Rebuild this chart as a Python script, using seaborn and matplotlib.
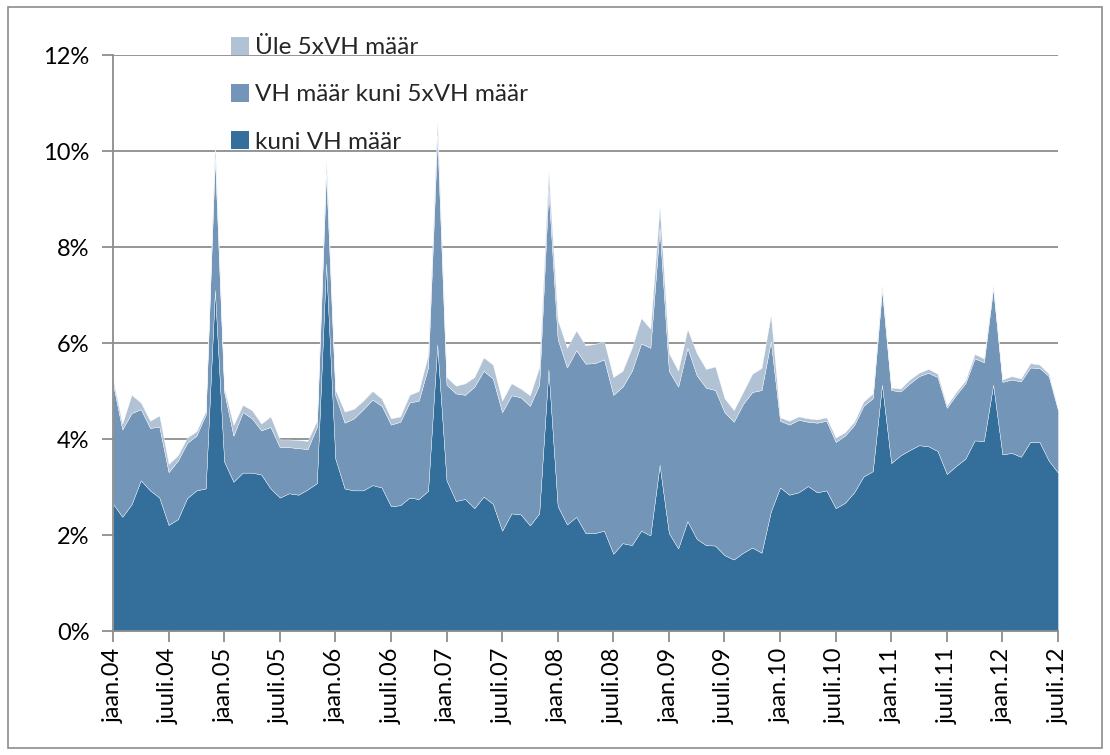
import matplotlib
matplotlib.use("Agg")
import matplotlib.pyplot as plt
import seaborn as sns
import numpy as np
from matplotlib.patches import Patch, Rectangle

# monthly shares (%), jaan.2004 .. juuli.2012
kuni_vh = [2.65, 2.38, 2.64, 3.14, 2.93, 2.78, 2.21, 2.33, 2.77, 2.93, 2.97, 7.10,
           3.53, 3.11, 3.30, 3.30, 3.26, 2.97, 2.78, 2.87, 2.84, 2.95, 3.08, 7.65,
           3.59, 2.97, 2.93, 2.93, 3.04, 2.99, 2.60, 2.62, 2.78, 2.75, 2.92, 5.97,
           3.14, 2.71, 2.75, 2.56, 2.80, 2.65, 2.09, 2.45, 2.43, 2.20, 2.45, 5.45,
           2.60, 2.22, 2.38, 2.04, 2.04, 2.09, 1.61, 1.83, 1.79, 2.09, 1.99, 3.46,
           2.04, 1.72, 2.29, 1.92, 1.79, 1.78, 1.58, 1.49, 1.63, 1.74, 1.63, 2.49,
           2.99, 2.84, 2.89, 3.02, 2.89, 2.93, 2.56, 2.67, 2.89, 3.22, 3.33, 5.13,
           3.50, 3.66, 3.77, 3.87, 3.85, 3.75, 3.27, 3.44, 3.59, 3.97, 3.96, 5.13,
           3.68, 3.71, 3.63, 3.94, 3.94, 3.55, 3.30]

vh_kuni_5xvh = [2.50, 1.82, 1.90, 1.48, 1.30, 1.48, 1.10, 1.22, 1.15, 1.14, 1.54, 2.77,
                1.45, 0.96, 1.26, 1.13, 0.92, 1.28, 1.05, 0.96, 0.97, 0.84, 1.17, 1.90,
                1.32, 1.37, 1.50, 1.69, 1.78, 1.70, 1.70, 1.74, 1.98, 2.05, 2.57, 4.36,
                1.99, 2.24, 2.17, 2.53, 2.62, 2.61, 2.47, 2.46, 2.44, 2.49, 2.68, 3.75,
                3.48, 3.27, 3.47, 3.53, 3.54, 3.57, 3.31, 3.26, 3.63, 3.90, 3.91, 4.94,
                3.38, 3.37, 3.61, 3.41, 3.28, 3.24, 2.98, 2.87, 3.10, 3.24, 3.39, 3.55,
                1.39, 1.46, 1.51, 1.34, 1.45, 1.45, 1.38, 1.40, 1.40, 1.47, 1.52, 1.98,
                1.52, 1.33, 1.39, 1.44, 1.53, 1.54, 1.38, 1.48, 1.57, 1.71, 1.64, 2.01,
                1.51, 1.53, 1.57, 1.55, 1.54, 1.76, 1.30]

ule_5xvh = [0.09, 0.12, 0.38, 0.14, 0.15, 0.23, 0.17, 0.11, 0.11, 0.09, 0.07, 0.30,
            0.07, 0.22, 0.15, 0.17, 0.14, 0.22, 0.16, 0.16, 0.17, 0.17, 0.13, 0.27,
            0.11, 0.23, 0.20, 0.18, 0.18, 0.15, 0.13, 0.11, 0.16, 0.20, 0.26, 0.31,
            0.16, 0.16, 0.24, 0.20, 0.28, 0.29, 0.24, 0.25, 0.18, 0.22, 0.36, 0.36,
            0.40, 0.41, 0.41, 0.38, 0.40, 0.38, 0.37, 0.33, 0.48, 0.53, 0.40, 0.45,
            0.37, 0.33, 0.39, 0.46, 0.39, 0.49, 0.29, 0.24, 0.25, 0.38, 0.46, 0.55,
            0.07, 0.08, 0.07, 0.07, 0.07, 0.07, 0.09, 0.07, 0.07, 0.09, 0.10, 0.11,
            0.05, 0.06, 0.08, 0.07, 0.08, 0.07, 0.05, 0.06, 0.06, 0.09, 0.08, 0.08,
            0.05, 0.07, 0.06, 0.09, 0.07, 0.05, 0.03]

tick_labels = ["jaan.04", "juuli.04", "jaan.05", "juuli.05", "jaan.06", "juuli.06",
               "jaan.07", "juuli.07", "jaan.08", "juuli.08", "jaan.09", "juuli.09",
               "jaan.10", "juuli.10", "jaan.11", "juuli.11", "jaan.12", "juuli.12"]

series_names = ["kuni VH määr", "VH määr kuni 5xVH määr", "Üle 5xVH määr"]
colors = ["#336f9a", "#7395b7", "#b1c2d5"]

sns.set_style("white")
plt.rcParams['font.family'] = ['Lato', 'DejaVu Sans']

fig = plt.figure(figsize=(11.10, 7.55), dpi=100)
ax = fig.add_axes([113 / 1110, 1 - 631 / 755, (1058 - 113) / 1110, (631 - 55) / 755])

x = np.arange(len(kuni_vh))
ax.stackplot(x, kuni_vh, vh_kuni_5xvh, ule_5xvh, colors=colors,
             edgecolor='white', linewidth=0.25, zorder=3)

grid_color = '#8c8c8c'
ax.set_xlim(0, len(kuni_vh) - 1)
ax.set_ylim(0, 12)
ax.set_yticks(np.arange(0, 13, 2))
ax.set_yticklabels([f"{v}%" for v in range(0, 13, 2)])
ax.set_xticks(np.arange(0, len(kuni_vh), 6))
ax.set_xticklabels(tick_labels, rotation=90)
ax.yaxis.grid(True, color=grid_color, linewidth=1.3, zorder=1)
ax.set_axisbelow(True)
ax.tick_params(axis='both', labelsize=17, colors=grid_color, labelcolor='black',
               length=8, width=1.3, direction='out', left=True, bottom=True)
ax.tick_params(axis='y', pad=9)
ax.tick_params(axis='x', pad=4)
sns.despine(ax=ax, top=True, right=True)
for side in ['left', 'bottom']:
    ax.spines[side].set_color(grid_color)
    ax.spines[side].set_linewidth(1.3)
    ax.spines[side].set_zorder(4)

handles = [Patch(facecolor=c, edgecolor='none') for c in colors]
fig.legend(handles[::-1], series_names[::-1], loc='upper left',
           bbox_to_anchor=(221 / 1110, 1 - 27 / 755), frameon=False,
           fontsize=17.5, handlelength=0.75, handleheight=0.75, handletextpad=0.25,
           labelspacing=1.07, borderaxespad=0)

fig.patches.append(Rectangle((8 / 1110, 7 / 755), 1094 / 1110, 741 / 755,
                             transform=fig.transFigure, fill=False,
                             edgecolor='#8c8c8c', linewidth=1.2))

fig.savefig("out.png", dpi=100)
